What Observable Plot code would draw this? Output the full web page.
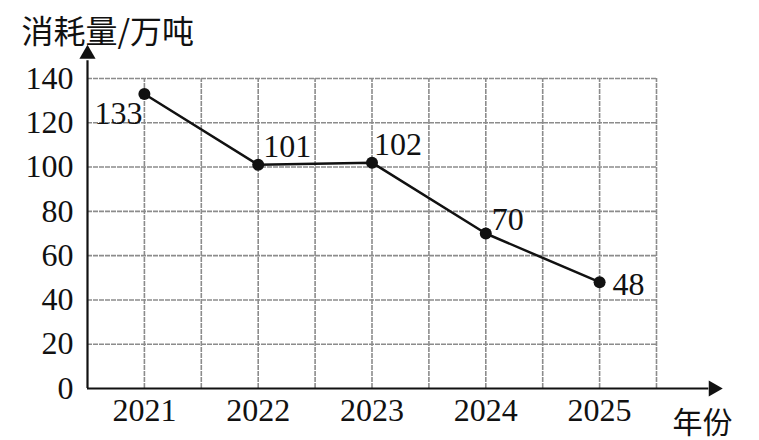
<!DOCTYPE html>
<html>
<head>
<meta charset="utf-8">
<script src="https://cdn.jsdelivr.net/npm/d3@7"></script>
<script src="https://cdn.jsdelivr.net/npm/@observablehq/plot@0.6"></script>
<style>
body { margin: 0; background: #fff; }
</style>
</head>
<body>
<div id="chart"></div>
<script>
// Data
const years = [2021, 2022, 2023, 2024, 2025];
const values = [133, 101, 102, 70, 48];
const yTicks = [0, 20, 40, 60, 80, 100, 120, 140];
const xGridLines = [2021, 2021.5, 2022, 2022.5, 2023, 2023.5, 2024, 2024.5, 2025, 2025.5];
const yGridLines = [20, 40, 60, 80, 100, 120, 140];
const labelAnchor = ["end", "start", "start", "start", "start"];
const labelDx = [-2, 5, 2, 6, 13];
const labelDy = [20, -18, -18, -14, 3];
const xDomain = [2020.5, 2025.5];
const yDomain = [0, 140];
const yArrowTop = 151;     // y-axis arrow extent (data units)
const xArrowEnd = 2026;    // x-axis arrow extent (data units)
const yTitle = "消耗量/万吨";
const xTitle = "年份";

const data = years.map((y, i) => ({year: y, value: values[i], anchor: labelAnchor[i], dx: labelDx[i], dy: labelDy[i]}));

const serif = "'Liberation Serif', 'DejaVu Serif', serif";
const cjk = "'Noto Sans CJK SC', sans-serif";
const gridStyle = {stroke: "#8c8c8c", strokeWidth: 1.6, strokeDasharray: "5,1"};

const labelMarks = data.map(d => Plot.text([d], {
  x: "year", y: "value", text: d => String(d.value),
  textAnchor: d.anchor, dx: d.dx, dy: d.dy,
  fontSize: 32, fontFamily: serif, fill: "#111"
}));

const chart = Plot.plot({
  width: 759,
  height: 440,
  marginLeft: 87,
  marginRight: 103,
  marginTop: 78,
  marginBottom: 52,
  style: {fontFamily: serif, background: "#fff", color: "#111"},
  x: {domain: xDomain, axis: null, label: null},
  y: {domain: yDomain, axis: null, label: null},
  marks: [
    Plot.ruleX(xGridLines, {x: d => d, y1: yDomain[0], y2: yDomain[1], ...gridStyle}),
    Plot.ruleY(yGridLines, {y: d => d, x1: xDomain[0], x2: xDomain[1], ...gridStyle}),
    // axes with arrows
    Plot.ruleX([xDomain[0]], {x: d => d, y1: yDomain[0], y2: yArrowTop - 3, stroke: "#111", strokeWidth: 2.2}),
    Plot.ruleY([yDomain[0]], {y: d => d, x1: xDomain[0], x2: xArrowEnd - 0.04, stroke: "#111", strokeWidth: 2.2}),
    Plot.dot([0], {x: xDomain[0], y: yArrowTop, symbol: "triangle", r: 6, fill: "#111", stroke: null}),
    Plot.dot([0], {x: xArrowEnd, y: yDomain[0], symbol: "triangle", r: 6, rotate: 90, fill: "#111", stroke: null}),
    Plot.axisY({ticks: yTicks, tickSize: 0, tickPadding: 14, fontSize: 32, fontFamily: serif, fill: "#111", label: null}),
    Plot.axisX({ticks: years, tickFormat: d => String(d), tickSize: 0, tickPadding: 10, fontSize: 32, fontFamily: serif, fill: "#111", label: null}),
    // series
    Plot.line(data, {x: "year", y: "value", stroke: "#111", strokeWidth: 2.5}),
    Plot.dot(data, {x: "year", y: "value", r: 6, fill: "#111", stroke: null}),
    ...labelMarks,
    // titles
    Plot.text([yTitle], {frameAnchor: "top-left", text: d => d, dx: -66, dy: -58, textAnchor: "start", fontSize: 32, fontFamily: cjk, fill: "#111"}),
    Plot.text([xTitle], {frameAnchor: "bottom-right", text: d => d, dx: 16, dy: 44, textAnchor: "start", fontSize: 30, fontFamily: cjk, fill: "#111"})
  ]
});
document.getElementById("chart").appendChild(chart);
</script>
</body>
</html>
